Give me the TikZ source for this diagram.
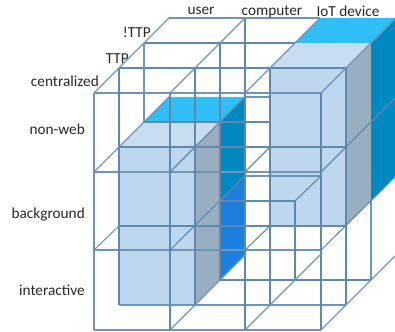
\documentclass[tikz,border=0pt]{standalone}
\usepackage{fontspec}
\usepackage{tikz}
\setmainfont{Carlito}
\definecolor{gridblue}{HTML}{5F88AE}
\definecolor{frontblue}{HTML}{BDD7EE}
\definecolor{topblue}{HTML}{C9DDF1}
\definecolor{sidegrey}{HTML}{9AAEC2}
\definecolor{brightblue}{HTML}{31BDF5}
\definecolor{tealblue}{HTML}{0088C0}
\definecolor{deepblue}{HTML}{1B7FDF}
\tikzset{
  gridline/.style={gridblue, line width=1.1pt},
  frontline/.style={gridblue!90, line width=1.1pt},
  axislabel/.style={font=\fontsize{15.3}{17}\selectfont, text=black!85, inner sep=0pt}
}

\begin{document}
\begin{tikzpicture}[x=1pt,y=-1pt]
        \useasboundingbox (0,0) rectangle (395,331);

        % Left box
        \fill[frontblue] (119,147) rectangle (195,305);
        \fill[topblue] (119,147) -- (195,147) -- (220,122) -- (144,122) -- cycle;
        \fill[sidegrey] (195,147) -- (220,122) -- (220,280) -- (195,305) -- cycle;
        \fill[brightblue] (144,122) -- (220,122) -- (245,97) -- (169,97) -- cycle;
        \fill[tealblue] (220,122) -- (245,97) -- (245,176) -- (220,201) -- cycle;
        \fill[deepblue] (220,201) -- (245,176) -- (245,255) -- (220,280) -- cycle;

        % Right box
        \fill[frontblue] (270,68) rectangle (346,226);
        \fill[topblue] (270,68) -- (346,68) -- (371,43) -- (295,43) -- cycle;
        \fill[sidegrey] (346,68) -- (371,43) -- (371,201) -- (346,226) -- cycle;
        \fill[brightblue] (295,43) -- (371,43) -- (395,18) -- (320,18) -- cycle;
        \fill[tealblue] (371,43) -- (395,18) -- (395,176) -- (371,201) -- cycle;

        % Horizontal lines, back to front
        \draw[frontline] (169,18) -- (320,18);
        \draw[gridline] (144,43) -- (295,43);
        \draw[gridline] (119,68) -- (346,68);
        \draw[frontline] (94,93) -- (321,93);
        \draw[frontline] (245,97) -- (270,97);
        \draw[gridline] (144,122) -- (270,122);
        \draw[gridline] (119,147) -- (346,147);
        \draw[frontline] (94,172) -- (321,172);
        \draw[frontline] (245,176) -- (321,176);
        \draw[gridline] (220,201) -- (295,201);
        \draw[gridline] (119,226) -- (346,226);
        \draw[frontline] (94,250) -- (321,250);
        \draw[gridline] (220,280) -- (371,280);
        \draw[frontline] (119,305) -- (346,305);
        \draw[frontline] (94,330) -- (321,330);

        % Vertical lines
        \draw[frontline] (94,93) -- (94,330);
        \draw[gridline] (119,68) -- (119,305);
        \draw[frontline] (144,43) -- (144,122);
        \draw[gridline] (170,93) -- (170,330);
        \draw[gridline] (195,68) -- (195,305);
        \draw[gridline] (220,43) -- (220,280);
        \draw[gridline] (245,18) -- (245,330);
        \draw[gridline] (270,68) -- (270,305);
        \draw[gridline] (295,201) -- (295,280);
        \draw[gridline] (321,93) -- (321,330);
        \draw[gridline] (346,68) -- (346,305);
        \draw[frontline] (371,201) -- (371,280);

        % Diagonal lines
        \draw[frontline] (94,93) -- (169,18);
        \draw[frontline] (170,93) -- (245,18);
        \draw[frontline] (245,93) -- (320,18);
        \draw[frontline] (321,93) -- (395,19);
        \draw[frontline] (94,172) -- (169,97);
        \draw[gridline] (170,172) -- (245,97);
        \draw[gridline] (245,172) -- (270,147);
        \draw[gridline] (321,172) -- (395,98);
        \draw[frontline] (94,250) -- (119,226);
        \draw[gridline] (170,250) -- (245,176);
        \draw[gridline] (245,250) -- (270,226);
        \draw[gridline] (295,201) -- (321,176);
        \draw[gridline] (321,250) -- (395,177);
        \draw[frontline] (170,330) -- (245,255);
        \draw[frontline] (245,330) -- (320,255);
        \draw[frontline] (321,330) -- (395,256);

        % Axis labels
        \node[axislabel, anchor=east] (centralized) at (99,81) {centralized};
        \node[axislabel, anchor=east] (nonweb) at (85,129) {non-web};
        \node[axislabel, anchor=east] (background) at (85,215) {background};
        \node[axislabel, anchor=east] (interactive) at (85,290) {interactive};
        \node[axislabel, anchor=east] (ttp) at (129,59) {TTP};
        \node[axislabel, anchor=east] (nottp) at (151,32) {!TTP};
        \node[axislabel] (user) at (201,11) {user};
        \node[axislabel] (computer) at (272,12) {computer};
        \node[axislabel] (iotdevice) at (348,11) {IoT device};
      \end{tikzpicture}
\end{document}
